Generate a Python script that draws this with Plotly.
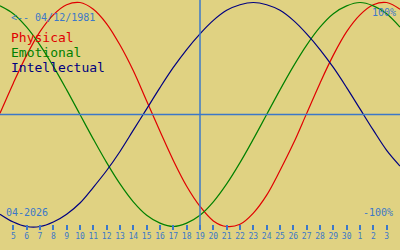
import plotly.graph_objects as go

# Days shown (April 2026 day numbers, continuing into May as 31..34)
days = list(range(4, 35))

# Biorhythm values (-1 .. 1), one per day
physical = [0.01, 0.28, 0.53, 0.74, 0.89, 0.98, 1.00, 0.94, 0.81, 0.62, 0.39, 0.12,
            -0.15, -0.41, -0.64, -0.82, -0.95, -1.00, -0.98, -0.88, -0.72, -0.50, -0.26,
            0.01, 0.28, 0.53, 0.74, 0.89, 0.98, 1.00, 0.94]
emotional = [0.97, 0.90, 0.78, 0.62, 0.43, 0.22, 0.00, -0.22, -0.43, -0.62, -0.78, -0.90,
             -0.97, -1.00, -0.97, -0.90, -0.78, -0.62, -0.43, -0.22, 0.00, 0.22, 0.43,
             0.62, 0.78, 0.90, 0.97, 1.00, 0.97, 0.90, 0.78]
intellectual = [-0.89, -0.96, -1.00, -1.00, -0.96, -0.89, -0.79, -0.65, -0.50, -0.33, -0.14,
                0.05, 0.24, 0.42, 0.58, 0.72, 0.84, 0.93, 0.98, 1.00, 0.98, 0.93, 0.84,
                0.72, 0.58, 0.42, 0.24, 0.05, -0.14, -0.32, -0.46]

tick_days = list(range(5, 34))
tick_labels = [str(d) for d in range(5, 31)] + ["1", "2", "3"]
today = 19
birth_label = "<-- 04/12/1981"
month_label = "04-2026"
series_names = ["Physical", "Emotional", "Intellectual"]

BG = "#E0D282"
BLUE = "#3C78C8"
colors = ["#E00000", "#008000", "#000080"]
FONT = "DejaVu Sans Mono"

fig = go.Figure()
for name, vals, col in zip(series_names, [physical, emotional, intellectual], colors):
    fig.add_trace(go.Scatter(x=days, y=vals, mode="lines", name=name,
                             line=dict(color=col, width=1.2, shape="spline"),
                             hoverinfo="skip"))

fig.add_shape(type="line", xref="x", yref="paper", x0=today, x1=today, y0=0, y1=1,
              line=dict(color=BLUE, width=1.5))
fig.add_shape(type="line", xref="paper", yref="y", x0=0, x1=1, y0=0, y1=0,
              line=dict(color=BLUE, width=1.5))

PH = 230.0

def py(pix):
    return 1 - pix / PH

ann = [
    dict(text=birth_label, x=9 / 400, y=py(17), xanchor="left", color=BLUE, size=10),
    dict(text=month_label, x=4 / 400, y=py(212), xanchor="left", color=BLUE, size=10),
    dict(text="100%", x=398 / 400, y=py(12), xanchor="right", color=BLUE, size=10),
    dict(text="-100%", x=395 / 400, y=py(212), xanchor="right", color=BLUE, size=10),
]
for i, (name, col) in enumerate(zip(series_names, colors)):
    ann.append(dict(text=name, x=9 / 400, y=py(37.5 + 15 * i), xanchor="left", color=col, size=13))

for a in ann:
    fig.add_annotation(text=a["text"], x=a["x"], y=a["y"], xref="paper", yref="paper",
                       xanchor=a["xanchor"], yanchor="middle", showarrow=False,
                       font=dict(family=FONT, size=a["size"], color=a["color"]))

fig.update_layout(
    width=400, height=250,
    margin=dict(l=0, r=0, t=0, b=20),
    paper_bgcolor=BG, plot_bgcolor=BG,
    showlegend=False,
    xaxis=dict(range=[4, 34], tickvals=tick_days, ticktext=tick_labels,
               ticks="inside", ticklen=5, tickwidth=1.5, tickcolor=BLUE,
               tickfont=dict(family=FONT, size=8, color=BLUE),
               showgrid=False, zeroline=False, showline=False, fixedrange=True),
    yaxis=dict(range=[-(PH - 114.5) / 112, 114.5 / 112], visible=False,
               showgrid=False, zeroline=False, fixedrange=True),
)

fig.write_html("out.html", config={"displayModeBar": False})
